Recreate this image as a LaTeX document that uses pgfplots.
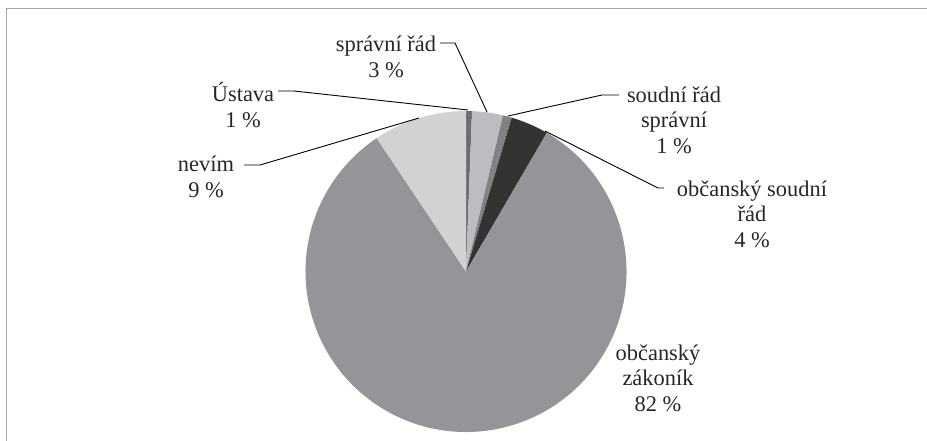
\documentclass[border=0pt]{standalone}
\usepackage{fontspec}
\setmainfont{Liberation Serif}
\usepackage{pgfplots}
\usepackage{pgfplotstable}
\pgfplotsset{compat=1.18}
\definecolor{pie0}{HTML}{6D6E71}
\definecolor{pie1}{HTML}{BCBDC0}
\definecolor{pie2}{HTML}{808285}
\definecolor{pie3}{HTML}{333333}
\definecolor{pie4}{HTML}{949599}
\definecolor{pie5}{HTML}{D1D2D4}
\definecolor{frame}{HTML}{A6A6A6}
\pgfplotstableread{
label value
Ustava 0.6
spravni 3.1
soudni 0.9
osr 3.8
zakonik 82.2
nevim 9.4
}\piedata
\begin{document}
\begin{tikzpicture}
\begin{axis}[
  scale only axis, width=927bp, height=441bp,
  xmin=0, xmax=927, ymin=0, ymax=441, y dir=reverse,
  hide axis, clip=false,
]
\def\cum{0}
\pgfplotsforeachungrouped \i in {0,...,5}{%
  \pgfplotstablegetelem{\i}{value}\of\piedata
  \let\v\pgfplotsretval
  \pgfmathsetmacro\a{90-3.6*\cum}%
  \pgfmathsetmacro\b{90-3.6*(\cum+\v)}%
  \edef\temp{\noexpand\fill[pie\i] (axis cs:466,271.5) -- ++(\a:160.5bp) arc[start angle=\a, end angle=\b, radius=160.5bp] -- cycle;}%
  \temp
  \pgfmathsetmacro\cum{\cum+\v}%
}
% frame
\draw[frame, line width=1.2bp] (axis cs:6.5,441) -- (axis cs:6.5,8.5) -- (axis cs:927,8.5);
% leader lines
\draw[black, line width=0.9bp] (axis cs:440,43) -- (axis cs:455,43) -- (axis cs:487,112);
\draw[black, line width=0.9bp] (axis cs:278,91) -- (axis cs:294,91) -- (axis cs:468,110);
\draw[black, line width=0.9bp] (axis cs:244,165) -- (axis cs:260,165) -- (axis cs:419,118);
\draw[black, line width=0.9bp] (axis cs:619,95) -- (axis cs:602,95) -- (axis cs:508,116);
\draw[black, line width=0.9bp] (axis cs:664,188) -- (axis cs:658,188) -- (axis cs:545,131);
% labels
\begin{scope}[every node/.style={align=center, inner sep=0pt, font=\fontsize{22.5}{25.5}\selectfont, text=black!85}]
\node at (axis cs:386,57) {správní řád\\3 \%};
\node at (axis cs:243,105) {Ústava\\1 \%};
\node at (axis cs:206,177) {nevím\\9 \%};
\node at (axis cs:674,120) {soudní řád\\správní\\1 \%};
\node at (axis cs:752,214) {občanský soudní\\řád\\4 \%};
\node at (axis cs:658,378) {občanský\\zákoník\\82 \%};
\end{scope}
\end{axis}
\pgfresetboundingbox
\useasboundingbox (0,0) rectangle (927bp,441bp);
\end{tikzpicture}
\end{document}
